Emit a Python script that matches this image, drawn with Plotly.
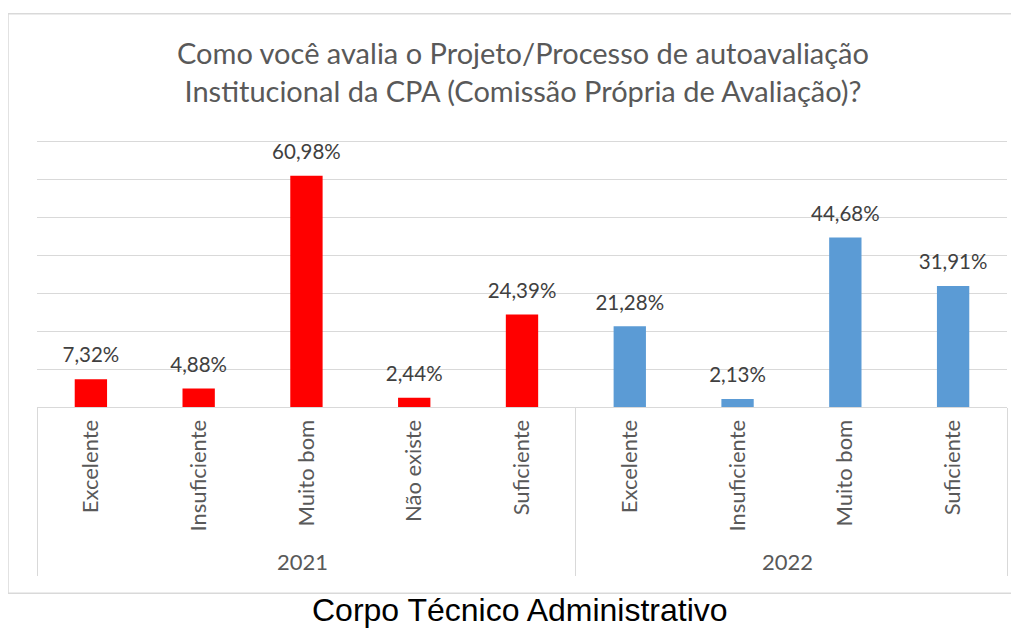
import plotly.graph_objects as go

years = ["2021"] * 5 + ["2022"] * 4
categories = ["Excelente", "Insuficiente", "Muito bom", "Não existe", "Suficiente",
              "Excelente", "Insuficiente", "Muito bom", "Suficiente"]
values = [7.32, 4.88, 60.98, 2.44, 24.39, 21.28, 2.13, 44.68, 31.91]
year_colors = {"2021": "#FF0000", "2022": "#5B9BD5"}

title_text = ("Como você avalia o Projeto/Processo de autoavaliação<br>"
              "Institucional da CPA (Comissão Própria de Avaliação)?")
caption_text = "Corpo Técnico Administrativo"

FONT = "Lato"
OFF = 8  # page body margin offset
Y_MAX = 70.4
PLOT_BOTTOM = 407.0 - OFF
PLOT_TOP = 141.7 - OFF - (Y_MAX - 70) * (407.0 - 141.7) / 70
PLOT_LEFT, PLOT_RIGHT = 37.0 - OFF, 1007.0 - OFF
H, W = PLOT_BOTTOM - PLOT_TOP, PLOT_RIGHT - PLOT_LEFT


def py(pix):  # reference pixel y -> paper y
    return (PLOT_BOTTOM - (pix - OFF)) / H


def px(pix):  # reference pixel x -> paper x
    return ((pix - OFF) - PLOT_LEFT) / W


colors = [year_colors[y] for y in years]

fig = go.Figure()
fig.add_trace(go.Bar(
    x=[years, categories],
    y=values,
    marker=dict(color=colors, line=dict(width=0)),
    width=0.3,
    hoverinfo="skip",
))
fig.add_trace(go.Scatter(
    x=[years, categories],
    y=values,
    mode="markers+text",
    marker=dict(size=17, opacity=0),
    texttemplate="%{y:.2f}%",
    textposition="top center",
    textfont=dict(family=FONT, size=20.5, color="#404040"),
    cliponaxis=False,
))

fig.update_layout(
    width=1019, height=628,
    margin=dict(l=PLOT_LEFT, r=1019 - PLOT_RIGHT, t=PLOT_TOP, b=628 - PLOT_BOTTOM,
                autoexpand=False),
    paper_bgcolor="white", plot_bgcolor="white",
    separators=",.",
    showlegend=False,
    xaxis=dict(
        type="multicategory",
        range=[-0.5, len(values) - 0.5],
        tickangle=-90,
        automargin=False,
        ticklabelstandoff=3,
        tickfont=dict(family=FONT, size=22, color="#595959"),
        showdividers=True, dividercolor="#D9D9D9", dividerwidth=1,
        showline=True, linecolor="#D9D9D9", linewidth=1,
        ticks="", showgrid=False,
    ),
    yaxis=dict(
        range=[0, Y_MAX], dtick=10,
        automargin=False,
        showgrid=True, gridcolor="#D9D9D9", gridwidth=1,
        showticklabels=False, zeroline=False, showline=False, ticks="",
    ),
    annotations=[
        dict(text=title_text, xref="paper", yref="paper", x=px(523), y=py(72),
             xanchor="center", yanchor="middle", showarrow=False,
             font=dict(family=FONT, size=29, color="#595959")),
        dict(text=caption_text, xref="paper", yref="paper", x=px(520), y=py(610),
             xanchor="center", yanchor="middle", showarrow=False,
             font=dict(family="Liberation Sans", size=32, color="black")),
    ],
    shapes=[
        dict(type="rect", xref="paper", yref="paper", x0=px(8), x1=px(1040),
             y0=py(593), y1=py(14), line=dict(color="#D9D9D9", width=1.5),
             layer="below"),
    ],
)

fig.write_html("out.html")
